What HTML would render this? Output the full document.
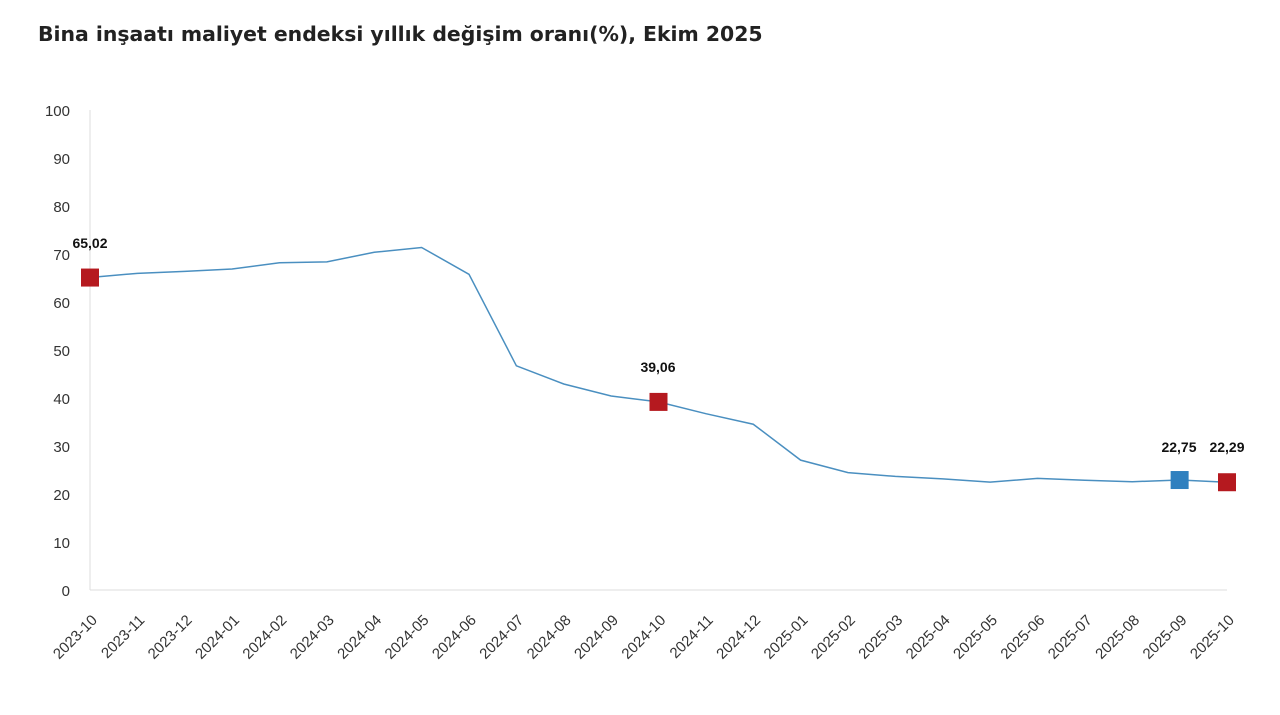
<!DOCTYPE html>
<html><head><meta charset="utf-8"><style>
body{margin:0;background:#fff;}
svg text{font-family:"Liberation Sans","DejaVu Sans",sans-serif;}
</style></head><body>
<svg width="1280" height="710" xmlns="http://www.w3.org/2000/svg">
<rect width="1280" height="710" fill="#fff"/>
<text x="38" y="41" font-size="20.4" font-weight="bold" fill="#222" style="font-family:'DejaVu Sans',sans-serif">Bina inşaatı maliyet endeksi yıllık değişim oranı(%), Ekim 2025</text>
<g font-size="15" fill="#333" text-anchor="end">
<text x="70" y="116">100</text><text x="70" y="164">90</text><text x="70" y="212">80</text><text x="70" y="260">70</text><text x="70" y="308">60</text><text x="70" y="356">50</text><text x="70" y="404">40</text><text x="70" y="452">30</text><text x="70" y="500">20</text><text x="70" y="548">10</text><text x="70" y="596">0</text>
</g>
<line x1="90" y1="110" x2="90" y2="590" stroke="#ddd" stroke-width="1"/>
<line x1="90" y1="590" x2="1227" y2="590" stroke="#ddd" stroke-width="1"/>
<g id="xl" font-size="15" fill="#333" text-anchor="end"></g>
<polyline id="ln" fill="none" stroke="#4a8fc0" stroke-width="1.5"/>
<g id="mk"></g>
<g font-size="14" font-weight="bold" fill="#111" text-anchor="middle">
<text x="90" y="248">65,02</text>
<text x="658" y="372">39,06</text>
<text x="1179" y="452">22,75</text>
<text x="1227" y="452">22,29</text>
</g>
<script>
var labs=["2023-10","2023-11","2023-12","2024-01","2024-02","2024-03","2024-04","2024-05","2024-06","2024-07","2024-08","2024-09","2024-10","2024-11","2024-12","2025-01","2025-02","2025-03","2025-04","2025-05","2025-06","2025-07","2025-08","2025-09","2025-10"];
var v=[65.02,65.9,66.3,66.8,68.1,68.3,70.3,71.3,65.7,46.6,42.8,40.3,39.06,36.6,34.4,26.9,24.3,23.5,23.0,22.3,23.1,22.7,22.4,22.75,22.29];
var ns="http://www.w3.org/2000/svg",pts=[],xl=document.getElementById('xl'),mk=document.getElementById('mk');
function X(i){return 90+i*47.375}function Y(d){return 589-d*4.79}
for(var i=0;i<25;i++){pts.push(X(i)+","+Y(v[i]));
var t=document.createElementNS(ns,"text");var x=X(i)+8,y=621;t.setAttribute("x",x);t.setAttribute("y",y);t.setAttribute("transform","rotate(-45 "+x+" "+y+")");t.textContent=labs[i];xl.appendChild(t);}
document.getElementById('ln').setAttribute("points",pts.join(" "));
[[0,"#b5191f"],[12,"#b5191f"],[23,"#2f80bf"],[24,"#b5191f"]].forEach(function(m){var r=document.createElementNS(ns,"rect");r.setAttribute("x",X(m[0])-9);r.setAttribute("y",Y(v[m[0]])-9);r.setAttribute("width",18);r.setAttribute("height",18);r.setAttribute("fill",m[1]);mk.appendChild(r);});
</script>
</svg>
</body></html>
